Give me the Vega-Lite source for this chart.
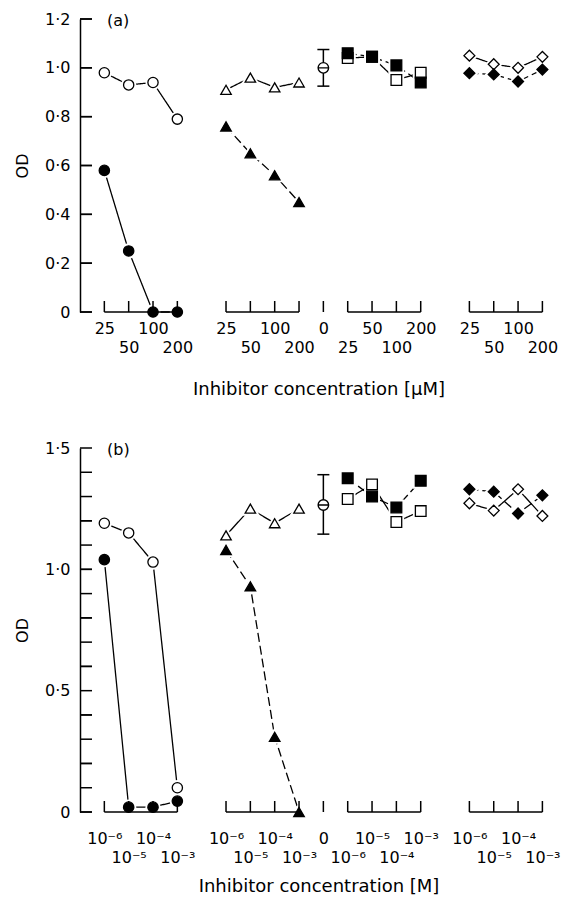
{
  "$schema": "https://vega.github.io/schema/vega-lite/v6.json",
  "background": "white",
  "padding": {"left": 14, "top": 11, "right": 4, "bottom": 4},
  "config": {
    "font": "DejaVu Sans",
    "view": {"stroke": null},
    "axis": {"labelFont": "DejaVu Sans", "labelFontSize": 16, "labelColor": "black", "titleFont": "DejaVu Sans", "titleFontSize": 16, "titleFontWeight": "normal", "titleColor": "black", "domainColor": "black", "tickColor": "black", "domainWidth": 1.5, "tickWidth": 1.5, "grid": false},
    "axisX": {"titleFontSize": 18},
    "axisY": {"ticks": false},
    "title": {"font": "DejaVu Sans", "fontSize": 16, "fontWeight": "normal", "color": "black"},
    "concat": {"spacing": 42}
  },
  "datasets": {
    "pts": [
      {"panel": "a", "series": "oc", "x": 1, "od": 0.98}, {"panel": "a", "series": "oc", "x": 2, "od": 0.93}, {"panel": "a", "series": "oc", "x": 3, "od": 0.94}, {"panel": "a", "series": "oc", "x": 4, "od": 0.79},
      {"panel": "a", "series": "fc", "x": 1, "od": 0.58}, {"panel": "a", "series": "fc", "x": 2, "od": 0.25}, {"panel": "a", "series": "fc", "x": 3, "od": 0.0}, {"panel": "a", "series": "fc", "x": 4, "od": 0.0},
      {"panel": "a", "series": "ot", "x": 6, "od": 0.91}, {"panel": "a", "series": "ot", "x": 7, "od": 0.96}, {"panel": "a", "series": "ot", "x": 8, "od": 0.92}, {"panel": "a", "series": "ot", "x": 9, "od": 0.94},
      {"panel": "a", "series": "ft", "x": 6, "od": 0.76}, {"panel": "a", "series": "ft", "x": 7, "od": 0.65}, {"panel": "a", "series": "ft", "x": 8, "od": 0.56}, {"panel": "a", "series": "ft", "x": 9, "od": 0.45},
      {"panel": "a", "series": "os", "x": 11, "od": 1.04}, {"panel": "a", "series": "os", "x": 12, "od": 1.045}, {"panel": "a", "series": "os", "x": 13, "od": 0.95}, {"panel": "a", "series": "os", "x": 14, "od": 0.98},
      {"panel": "a", "series": "fs", "x": 11, "od": 1.06}, {"panel": "a", "series": "fs", "x": 12, "od": 1.045}, {"panel": "a", "series": "fs", "x": 13, "od": 1.01}, {"panel": "a", "series": "fs", "x": 14, "od": 0.94},
      {"panel": "a", "series": "od", "x": 16, "od": 1.05}, {"panel": "a", "series": "od", "x": 17, "od": 1.015}, {"panel": "a", "series": "od", "x": 18, "od": 1.0}, {"panel": "a", "series": "od", "x": 19, "od": 1.045},
      {"panel": "a", "series": "fd", "x": 16, "od": 0.978}, {"panel": "a", "series": "fd", "x": 17, "od": 0.973}, {"panel": "a", "series": "fd", "x": 18, "od": 0.944}, {"panel": "a", "series": "fd", "x": 19, "od": 0.993},
      {"panel": "b", "series": "oc", "x": 1, "od": 1.19}, {"panel": "b", "series": "oc", "x": 2, "od": 1.15}, {"panel": "b", "series": "oc", "x": 3, "od": 1.03}, {"panel": "b", "series": "oc", "x": 4, "od": 0.1},
      {"panel": "b", "series": "fc", "x": 1, "od": 1.04}, {"panel": "b", "series": "fc", "x": 2, "od": 0.02}, {"panel": "b", "series": "fc", "x": 3, "od": 0.02}, {"panel": "b", "series": "fc", "x": 4, "od": 0.045},
      {"panel": "b", "series": "ot", "x": 6, "od": 1.14}, {"panel": "b", "series": "ot", "x": 7, "od": 1.25}, {"panel": "b", "series": "ot", "x": 8, "od": 1.19}, {"panel": "b", "series": "ot", "x": 9, "od": 1.25},
      {"panel": "b", "series": "ft", "x": 6, "od": 1.08}, {"panel": "b", "series": "ft", "x": 7, "od": 0.93}, {"panel": "b", "series": "ft", "x": 8, "od": 0.31}, {"panel": "b", "series": "ft", "x": 9, "od": 0.0},
      {"panel": "b", "series": "os", "x": 11, "od": 1.29}, {"panel": "b", "series": "os", "x": 12, "od": 1.35}, {"panel": "b", "series": "os", "x": 13, "od": 1.195}, {"panel": "b", "series": "os", "x": 14, "od": 1.24},
      {"panel": "b", "series": "fs", "x": 11, "od": 1.375}, {"panel": "b", "series": "fs", "x": 12, "od": 1.3}, {"panel": "b", "series": "fs", "x": 13, "od": 1.255}, {"panel": "b", "series": "fs", "x": 14, "od": 1.365},
      {"panel": "b", "series": "od", "x": 16, "od": 1.272}, {"panel": "b", "series": "od", "x": 17, "od": 1.242}, {"panel": "b", "series": "od", "x": 18, "od": 1.33}, {"panel": "b", "series": "od", "x": 19, "od": 1.22},
      {"panel": "b", "series": "fd", "x": 16, "od": 1.33}, {"panel": "b", "series": "fd", "x": 17, "od": 1.32}, {"panel": "b", "series": "fd", "x": 18, "od": 1.23}, {"panel": "b", "series": "fd", "x": 19, "od": 1.305}
    ],
    "ctrl": [
      {"panel": "a", "x": 10, "od": 1.0, "lo": 0.925, "hi": 1.075},
      {"panel": "b", "x": 10, "od": 1.265, "lo": 1.145, "hi": 1.39}
    ],
    "brk": [
      {"x": 1, "x2": 4, "od": 0}, {"x": 6, "x2": 9, "od": 0}, {"x": 11, "x2": 14, "od": 0}, {"x": 16, "x2": 19, "od": 0},
      {"x": 0, "x2": 0.49, "od": 0}, {"x": 0, "x2": 0.49, "od": 0.2}, {"x": 0, "x2": 0.49, "od": 0.4}, {"x": 0, "x2": 0.49, "od": 0.6}, {"x": 0, "x2": 0.49, "od": 0.8}, {"x": 0, "x2": 0.49, "od": 1.0}, {"x": 0, "x2": 0.49, "od": 1.2}
    ],
    "tk": [
      {"x": 1, "od": 0}, {"x": 2, "od": 0}, {"x": 3, "od": 0}, {"x": 4, "od": 0}, {"x": 6, "od": 0}, {"x": 7, "od": 0}, {"x": 8, "od": 0}, {"x": 9, "od": 0}, {"x": 10, "od": 0},
      {"x": 11, "od": 0}, {"x": 12, "od": 0}, {"x": 13, "od": 0}, {"x": 14, "od": 0}, {"x": 16, "od": 0}, {"x": 17, "od": 0}, {"x": 18, "od": 0}, {"x": 19, "od": 0}
    ],
    "ytka": [
      {"x": 0, "od": 0}, {"x": 0, "od": 0.2}, {"x": 0, "od": 0.4}, {"x": 0, "od": 0.6}, {"x": 0, "od": 0.8}, {"x": 0, "od": 1.0}, {"x": 0, "od": 1.2}
    ],
    "ytkb": [
      {"x": 0, "od": 0}, {"x": 0, "od": 0.1}, {"x": 0, "od": 0.2}, {"x": 0, "od": 0.3}, {"x": 0, "od": 0.4}, {"x": 0, "od": 0.5}, {"x": 0, "od": 0.6}, {"x": 0, "od": 0.7},
      {"x": 0, "od": 0.8}, {"x": 0, "od": 0.9}, {"x": 0, "od": 1.0}, {"x": 0, "od": 1.1}, {"x": 0, "od": 1.2}, {"x": 0, "od": 1.3}, {"x": 0, "od": 1.4}, {"x": 0, "od": 1.5}
    ]
  },
  "vconcat": [
    {
      "width": 477,
      "height": 293,
      "title": {"text": "(a)", "anchor": "start", "frame": "group", "dx": 27, "offset": -26, "baseline": "middle"},
      "encoding": {
        "x": {"field": "x", "type": "quantitative", "scale": {"domain": [0, 19.6], "nice": false, "zero": false},
          "axis": {"values": [1, 2, 3, 4, 6, 7, 8, 9, 10, 11, 12, 13, 14, 16, 17, 18, 19], "domain": false, "ticks": false, "labelPadding": 8, "labelLineHeight": 19, "labelOverlap": false, "labelBound": false, "labelFlush": false, "labelAlign": "center",
            "labelExpr": "['', '25', ['', '50'], '100', ['', '200'], '', '25', ['', '50'], '100', ['', '200'], '0', ['', '25'], '50', ['', '100'], '200', '', '25', ['', '50'], '100', ['', '200']][datum.value]",
            "title": "Inhibitor concentration  [μM]", "titlePadding": 25}},
        "y": {"field": "od", "type": "quantitative", "scale": {"domain": [0, 1.2], "nice": false},
          "axis": {"values": [0, 0.2, 0.4, 0.6, 0.8, 1, 1.2], "labelPadding": 10, "labelExpr": "datum.value == 0 ? '0' : replace(format(datum.value, '.1f'), '.', '·')", "title": "OD", "titlePadding": 14}}
      },
      "layer": [
        {"data": {"name": "pts"}, "transform": [{"filter": "datum.panel == 'a'"}],
          "mark": {"type": "line", "stroke": "black", "strokeWidth": 1.3},
          "encoding": {"strokeDash": {"field": "series", "type": "nominal", "scale": {"domain": ["oc", "fc", "ot", "ft", "os", "fs", "od", "fd"], "range": [[1, 0], [1, 0], [1, 0], [9, 4], [1, 0], [9, 4], [1, 0], [9, 4]]}, "legend": null}}},
        {"data": {"name": "pts"}, "transform": [{"filter": "datum.panel == 'a'"}],
          "mark": {"type": "point", "filled": true, "fill": "white", "stroke": "white", "strokeWidth": 5, "opacity": 1},
          "encoding": {
            "shape": {"field": "series", "type": "nominal", "scale": {"domain": ["oc", "fc", "ot", "ft", "os", "fs", "od", "fd"], "range": ["circle", "circle", "triangle-up", "triangle-up", "square", "square", "diamond", "diamond"]}, "legend": null},
            "size": {"field": "series", "type": "nominal", "scale": {"domain": ["oc", "fc", "ot", "ft", "os", "fs", "od", "fd"], "range": [105, 120, 45, 55, 45, 60, 100, 100]}, "legend": null}}},
        {"data": {"name": "brk"}, "mark": {"type": "rule", "stroke": "black", "strokeWidth": 1.5},
          "encoding": {"x2": {"field": "x2"}}},
        {"data": {"name": "tk"}, "mark": {"type": "tick", "orient": "vertical", "size": 11, "thickness": 1.5, "yOffset": -5.5, "color": "black", "opacity": 1},
          "encoding": {}},
        {"data": {"name": "ytka"},
          "mark": {"type": "tick", "orient": "horizontal", "size": 12, "thickness": 1.5, "xOffset": 6, "color": "black", "opacity": 1},
          "encoding": {}},
        {"data": {"name": "pts"}, "transform": [{"filter": "datum.panel == 'a'"}],
          "mark": {"type": "point", "filled": true, "stroke": "black", "strokeWidth": 1.3, "opacity": 1},
          "encoding": {
            "shape": {"field": "series", "type": "nominal", "scale": {"domain": ["oc", "fc", "ot", "ft", "os", "fs", "od", "fd"], "range": ["circle", "circle", "triangle-up", "triangle-up", "square", "square", "diamond", "diamond"]}, "legend": null},
            "size": {"field": "series", "type": "nominal", "scale": {"domain": ["oc", "fc", "ot", "ft", "os", "fs", "od", "fd"], "range": [105, 120, 45, 55, 45, 60, 100, 100]}, "legend": null},
            "fill": {"field": "series", "type": "nominal", "scale": {"domain": ["oc", "fc", "ot", "ft", "os", "fs", "od", "fd"], "range": ["white", "black", "white", "black", "white", "black", "white", "black"]}, "legend": null}}},
        {"data": {"name": "ctrl"}, "transform": [{"filter": "datum.panel == 'a'"}, {"fold": ["lo", "hi"], "as": ["end", "od"]}],
          "mark": {"type": "line", "stroke": "black", "strokeWidth": 1.5},
          "encoding": {}},
        {"data": {"name": "ctrl"}, "transform": [{"filter": "datum.panel == 'a'"}, {"fold": ["lo", "hi"], "as": ["end", "od"]}],
          "mark": {"type": "tick", "orient": "horizontal", "size": 12, "thickness": 1.5, "color": "black", "opacity": 1},
          "encoding": {}},
        {"data": {"name": "ctrl"}, "transform": [{"filter": "datum.panel == 'a'"}],
          "mark": {"type": "point", "shape": "M-1,0A1,1,0,1,1,1,0A1,1,0,1,1,-1,0ZM-1,0L1,0", "size": 110, "filled": true, "fill": "white", "stroke": "black", "strokeWidth": 1.4, "opacity": 1},
          "encoding": {}}
      ]
    },
    {
      "width": 477,
      "height": 364,
      "title": {"text": "(b)", "anchor": "start", "frame": "group", "dx": 27, "offset": -26, "baseline": "middle"},
      "encoding": {
        "x": {"field": "x", "type": "quantitative", "scale": {"domain": [0, 19.6], "nice": false, "zero": false},
          "axis": {"values": [1, 2, 3, 4, 6, 7, 8, 9, 10, 11, 12, 13, 14, 16, 17, 18, 19], "domain": false, "ticks": false, "labelPadding": 18, "labelLineHeight": 19, "labelOverlap": false, "labelBound": false, "labelFlush": false, "labelAlign": "center",
            "labelExpr": "['', '10⁻⁶', ['', '10⁻⁵'], '10⁻⁴', ['', '10⁻³'], '', '10⁻⁶', ['', '10⁻⁵'], '10⁻⁴', ['', '10⁻³'], '0', ['', '10⁻⁶'], '10⁻⁵', ['', '10⁻⁴'], '10⁻³', '', '10⁻⁶', ['', '10⁻⁵'], '10⁻⁴', ['', '10⁻³']][datum.value]",
            "title": "Inhibitor concentration  [M]", "titlePadding": 12}},
        "y": {"field": "od", "type": "quantitative", "scale": {"domain": [0, 1.5], "nice": false},
          "axis": {"values": [0, 0.1, 0.2, 0.3, 0.4, 0.5, 0.6, 0.7, 0.8, 0.9, 1, 1.1, 1.2, 1.3, 1.4, 1.5], "labelPadding": 10, "labelExpr": "abs(datum.value * 2 - round(datum.value * 2)) < 0.001 ? (datum.value == 0 ? '0' : replace(format(datum.value, '.1f'), '.', '·')) : ''", "title": "OD", "titlePadding": 14}}
      },
      "layer": [
        {"data": {"name": "pts"}, "transform": [{"filter": "datum.panel == 'b'"}],
          "mark": {"type": "line", "stroke": "black", "strokeWidth": 1.3},
          "encoding": {"strokeDash": {"field": "series", "type": "nominal", "scale": {"domain": ["oc", "fc", "ot", "ft", "os", "fs", "od", "fd"], "range": [[1, 0], [1, 0], [1, 0], [9, 4], [1, 0], [9, 4], [1, 0], [9, 4]]}, "legend": null}}},
        {"data": {"name": "pts"}, "transform": [{"filter": "datum.panel == 'b'"}],
          "mark": {"type": "point", "filled": true, "fill": "white", "stroke": "white", "strokeWidth": 5, "opacity": 1},
          "encoding": {
            "shape": {"field": "series", "type": "nominal", "scale": {"domain": ["oc", "fc", "ot", "ft", "os", "fs", "od", "fd"], "range": ["circle", "circle", "triangle-up", "triangle-up", "square", "square", "diamond", "diamond"]}, "legend": null},
            "size": {"field": "series", "type": "nominal", "scale": {"domain": ["oc", "fc", "ot", "ft", "os", "fs", "od", "fd"], "range": [105, 120, 45, 55, 45, 60, 100, 100]}, "legend": null}}},
        {"data": {"name": "brk"}, "mark": {"type": "rule", "stroke": "black", "strokeWidth": 1.5},
          "encoding": {"x2": {"field": "x2"}}},
        {"data": {"name": "tk"}, "mark": {"type": "tick", "orient": "vertical", "size": 11, "thickness": 1.5, "yOffset": -5.5, "color": "black", "opacity": 1},
          "encoding": {}},
        {"data": {"name": "ytkb"},
          "mark": {"type": "tick", "orient": "horizontal", "size": 12, "thickness": 1.5, "xOffset": 6, "color": "black", "opacity": 1},
          "encoding": {}},
        {"data": {"name": "pts"}, "transform": [{"filter": "datum.panel == 'b'"}],
          "mark": {"type": "point", "filled": true, "stroke": "black", "strokeWidth": 1.3, "opacity": 1},
          "encoding": {
            "shape": {"field": "series", "type": "nominal", "scale": {"domain": ["oc", "fc", "ot", "ft", "os", "fs", "od", "fd"], "range": ["circle", "circle", "triangle-up", "triangle-up", "square", "square", "diamond", "diamond"]}, "legend": null},
            "size": {"field": "series", "type": "nominal", "scale": {"domain": ["oc", "fc", "ot", "ft", "os", "fs", "od", "fd"], "range": [105, 120, 45, 55, 45, 60, 100, 100]}, "legend": null},
            "fill": {"field": "series", "type": "nominal", "scale": {"domain": ["oc", "fc", "ot", "ft", "os", "fs", "od", "fd"], "range": ["white", "black", "white", "black", "white", "black", "white", "black"]}, "legend": null}}},
        {"data": {"name": "ctrl"}, "transform": [{"filter": "datum.panel == 'b'"}, {"fold": ["lo", "hi"], "as": ["end", "od"]}],
          "mark": {"type": "line", "stroke": "black", "strokeWidth": 1.5},
          "encoding": {}},
        {"data": {"name": "ctrl"}, "transform": [{"filter": "datum.panel == 'b'"}, {"fold": ["lo", "hi"], "as": ["end", "od"]}],
          "mark": {"type": "tick", "orient": "horizontal", "size": 12, "thickness": 1.5, "color": "black", "opacity": 1},
          "encoding": {}},
        {"data": {"name": "ctrl"}, "transform": [{"filter": "datum.panel == 'b'"}],
          "mark": {"type": "point", "shape": "M-1,0A1,1,0,1,1,1,0A1,1,0,1,1,-1,0ZM-1,0L1,0", "size": 110, "filled": true, "fill": "white", "stroke": "black", "strokeWidth": 1.4, "opacity": 1},
          "encoding": {}}
      ]
    }
  ]
}
